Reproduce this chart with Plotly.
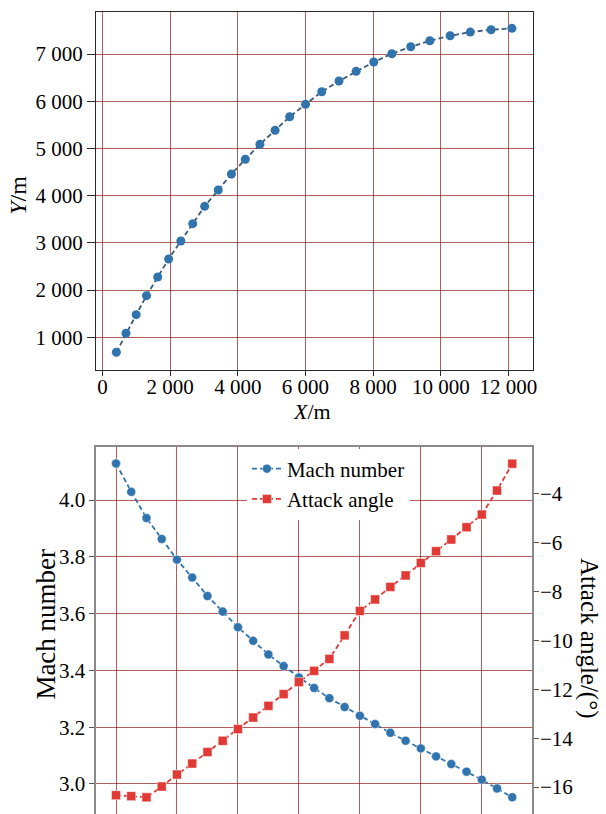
import plotly.graph_objects as go

# ---- Top chart data: trajectory ----
x_pos = [411, 695, 997, 1302, 1633, 1956, 2317, 2669, 3021, 3422, 3812, 4223, 4654, 5103,
         5534, 6003, 6481, 6991, 7498, 8018, 8554, 9112, 9677, 10276, 10871, 11487, 12103]
y_pos = [682, 1085, 1479, 1881, 2277, 2658, 3039, 3406, 3774, 4119, 4458, 4770, 5087, 5384,
         5672, 5934, 6201, 6428, 6633, 6830, 7006, 7154, 7281, 7387, 7465, 7514, 7544]
x_tickvals = [0, 2000, 4000, 6000, 8000, 10000, 12000]
x_ticktext = ["0", "2 000", "4 000", "6 000", "8 000", "10 000", "12 000"]
y_tickvals = [1000, 2000, 3000, 4000, 5000, 6000, 7000]
y_ticktext = ["1 000", "2 000", "3 000", "4 000", "5 000", "6 000", "7 000"]

# ---- Bottom chart data ----
time = [0, 0.5, 1, 1.5, 2, 2.5, 3, 3.5, 4, 4.5, 5, 5.5, 6, 6.5, 7, 7.5, 8, 8.5, 9, 9.5,
        10, 10.5, 11, 11.5, 12, 12.5, 13]
mach = [4.129, 4.029, 3.937, 3.863, 3.790, 3.727, 3.662, 3.607, 3.552, 3.504, 3.456, 3.415,
        3.375, 3.338, 3.302, 3.271, 3.240, 3.211, 3.180, 3.152, 3.125, 3.097, 3.070, 3.043,
        3.015, 2.984, 2.953]
attack = [-16.33, -16.37, -16.42, -15.98, -15.49, -15.04, -14.57, -14.11, -13.63, -13.16,
          -12.68, -12.20, -11.71, -11.25, -10.76, -9.80, -8.80, -8.33, -7.82, -7.35, -6.84,
          -6.36, -5.88, -5.38, -4.86, -3.88, -2.78]
mach_ticks = [3.0, 3.2, 3.4, 3.6, 3.8, 4.0]
attack_ticks = [-16, -14, -12, -10, -8, -6, -4]

W, H = 606, 814
FONT = "Liberation Serif, Times New Roman, serif"
BLUE = "#3073ad"
RED = "#e03a36"
GRID = "rgba(150,30,30,0.72)"


def px(x):
    return x / W


def py(y):
    return 1 - y / H


fig = go.Figure()

fig.add_trace(go.Scatter(
    x=x_pos, y=y_pos, mode="lines+markers", xaxis="x", yaxis="y",
    line=dict(color="#3c5a78", width=1.8, dash="5px,3px"),
    marker=dict(color=BLUE, size=9, symbol="circle"),
    showlegend=False))

fig.add_trace(go.Scatter(
    x=time, y=mach, mode="lines+markers", xaxis="x2", yaxis="y2",
    name="Mach number",
    line=dict(color=BLUE, width=1.8, dash="5px,3px"),
    marker=dict(color=BLUE, size=9, symbol="circle",
                line=dict(color="rgba(255,255,255,0.6)", width=0.8))))

fig.add_trace(go.Scatter(
    x=time, y=attack, mode="lines+markers", xaxis="x2", yaxis="y3",
    name="Attack angle",
    line=dict(color=RED, width=1.8, dash="5px,3px"),
    marker=dict(color=RED, size=9, symbol="square",
                line=dict(color="rgba(255,255,255,0.6)", width=0.8))))

tickfont = dict(family=FONT, size=21, color="black")


def ann(text, x, y, size, angle=0):
    return dict(text=text, x=px(x), y=py(y), xref="paper", yref="paper",
                xanchor="center", yanchor="middle", showarrow=False,
                textangle=angle, font=dict(family=FONT, size=size, color="black"))


fig.update_layout(
    width=W, height=H,
    margin=dict(l=0, r=0, t=0, b=0),
    paper_bgcolor="white", plot_bgcolor="white",
    font=dict(family=FONT, size=21, color="black"),
    xaxis=dict(domain=[px(97), px(537)], anchor="y", range=[-185, 12713],
               tickvals=x_tickvals, ticktext=x_ticktext, tickfont=tickfont,
               showgrid=True, gridcolor=GRID, gridwidth=1.2, zeroline=False,
               showline=True, linecolor="#2a2a2a", linewidth=1.3, mirror=True,
               ticks="outside", ticklen=5, tickcolor="#2a2a2a",
               ticklabelstandoff=-7),
    yaxis=dict(domain=[py(370), py(12)], anchor="x", range=[307, 7890],
               tickvals=y_tickvals, ticktext=y_ticktext, tickfont=tickfont,
               showgrid=True, gridcolor=GRID, gridwidth=1.2, zeroline=False,
               showline=True, linecolor="#2a2a2a", linewidth=1.3, mirror=True,
               ticks="outside", ticklen=8, tickcolor="#2a2a2a"),
    xaxis2=dict(domain=[px(97), px(536.5)], anchor="y2", range=[-0.65, 13.65],
                tickvals=[0, 2, 4, 6, 8, 10, 12], showticklabels=False,
                showgrid=True, gridcolor=GRID, gridwidth=1.3, zeroline=False,
                showline=True, linecolor="#8a8a8a", linewidth=1.5, mirror=True,
                ticks=""),
    yaxis2=dict(domain=[0, py(447)], anchor="x2", range=[2.894, 4.187],
                tickvals=mach_ticks, tickformat=".1f", tickfont=tickfont,
                showgrid=True, gridcolor=GRID, gridwidth=1.3, zeroline=False,
                showline=True, linecolor="#8a8a8a", linewidth=1.5, mirror=False,
                ticks="outside", ticklen=5, tickcolor="#555555"),
    yaxis3=dict(overlaying="y2", anchor="x2", side="right", range=[-17.10, -2.10],
                tickvals=attack_ticks, tickfont=tickfont,
                showgrid=False, zeroline=False,
                showline=True, linecolor="#8a8a8a", linewidth=1.5,
                ticks="outside", ticklen=5, tickcolor="#555555",
                ticklabelstandoff=-3),
    legend=dict(x=px(249), y=py(448.5), xanchor="left", yanchor="top",
                bgcolor="white", borderwidth=0,
                font=dict(family=FONT, size=21, color="black"),
                tracegroupgap=0),
    annotations=[
        ann("<i>X</i>/m", 315, 411, 22),
        ann("<i>Y</i>/m", 18, 195, 24, -90),
        ann("Mach number", 46, 624, 27, -90),
        ann("Attack angle/(°)", 594, 638, 25, 90),
    ],
)

fig.write_html("out.html")
